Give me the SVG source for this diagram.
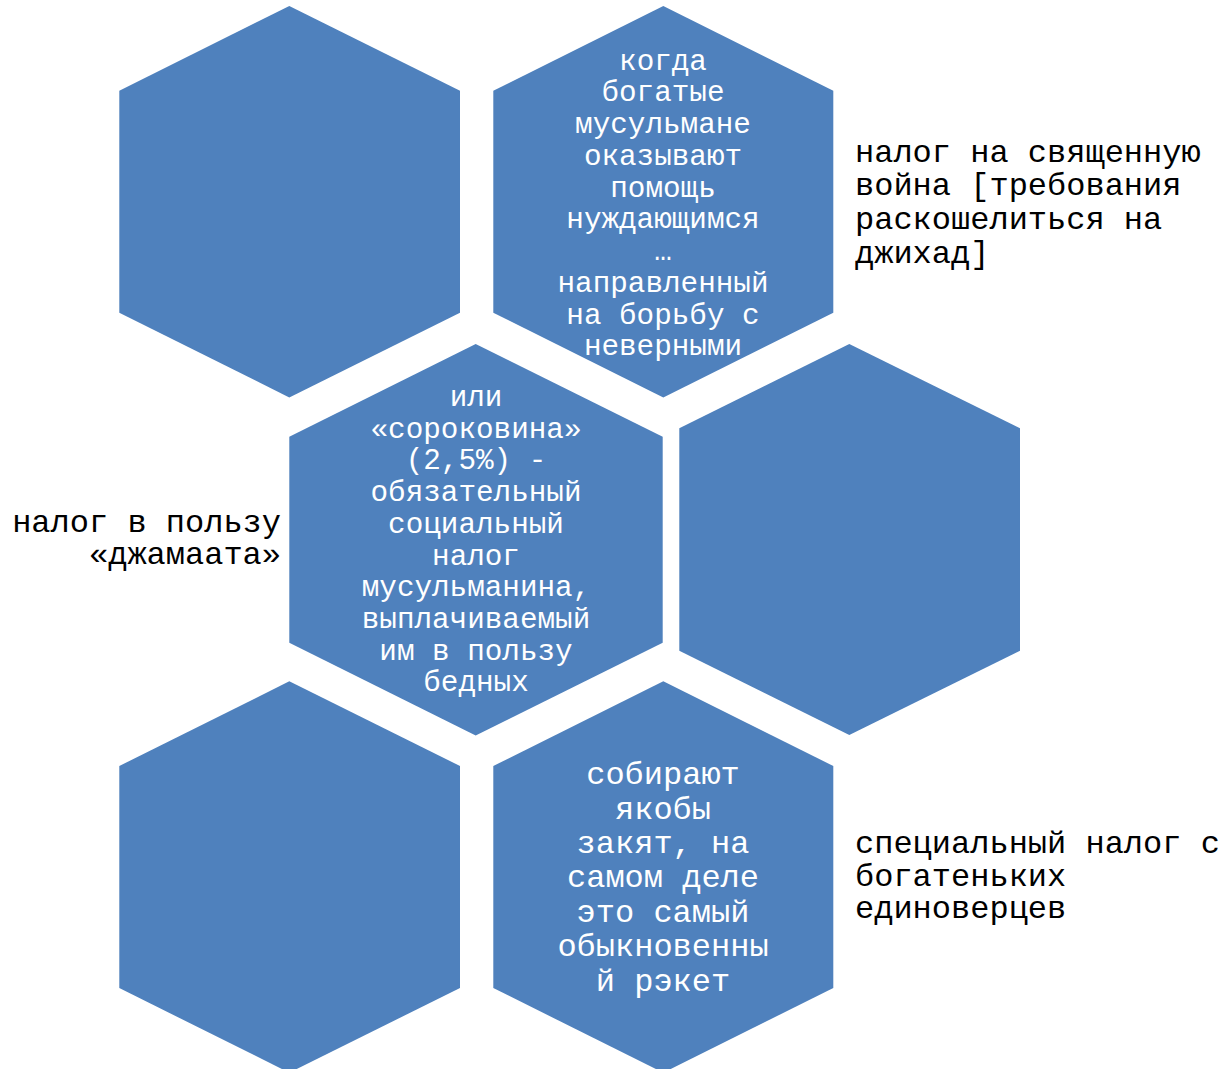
<svg xmlns="http://www.w3.org/2000/svg" width="1223" height="1069" viewBox="0 0 1223 1069">
<style>
.hex{fill:#4F81BD;}
.in{font-family:"Liberation Mono","Courier New",monospace;fill:#FFFFFF;text-anchor:middle;}
.s29{font-size:29.3px;}
.s32{font-size:32px;}
.out{font-family:"Liberation Mono","Courier New",monospace;fill:#000000;font-size:32px;}
.end{text-anchor:end;}
</style>
<rect width="1223" height="1069" fill="#FFFFFF"/>
<g id="hex1"><polygon class="hex" points="289.3,6 460,90.7 460,312.7 289.3,397.4 119.3,312.7 119.3,90.7"/></g>
<g id="hex2"><polygon class="hex" points="663.3,6 833.3,90.7 833.3,312.7 663.3,397.4 493.3,312.7 493.3,90.7"/>
<text class="in s29" x="663" y="69.5">когда</text>
<text class="in s29" x="663" y="101">богатые</text>
<text class="in s29" x="663" y="133">мусульмане</text>
<text class="in s29" x="663" y="165">оказывают</text>
<text class="in s29" x="663" y="196.5">помощь</text>
<text class="in s29" x="663" y="228">нуждающимся</text>
<text class="in s29" x="663" y="260">…</text>
<text class="in s29" x="663" y="291.5">направленный</text>
<text class="in s29" x="663" y="323.5">на борьбу с</text>
<text class="in s29" x="663" y="355">неверными</text>
</g>
<g id="hex3"><polygon class="hex" points="475.7,344 662.7,436.7 662.7,642.7 475.7,735.4 289.3,642.7 289.3,436.7"/>
<text class="in s29" x="476" y="406">или</text>
<text class="in s29" x="476" y="437.7">«сороковина»</text>
<text class="in s29" x="476" y="469.4">(2,5%) -</text>
<text class="in s29" x="476" y="501">обязательный</text>
<text class="in s29" x="476" y="532.8">социальный</text>
<text class="in s29" x="476" y="564.5">налог</text>
<text class="in s29" x="476" y="596">мусульманина,</text>
<text class="in s29" x="476" y="628">выплачиваемый</text>
<text class="in s29" x="476" y="659.6">им в пользу</text>
<text class="in s29" x="476" y="691.3">бедных</text>
</g>
<g id="hex4"><polygon class="hex" points="849.3,344 1020,428.3 1020,650.7 849.3,735 679.3,650.7 679.3,428.3"/></g>
<g id="hex5"><polygon class="hex" points="289.3,681.3 460,766 460,988 289.3,1072.7 119.3,988 119.3,766"/></g>
<g id="hex6"><polygon class="hex" points="663.3,681.3 833.3,766 833.3,988 663.3,1072.7 493.3,988 493.3,766"/>
<text class="in s32" x="663" y="784">собирают</text>
<text class="in s32" x="663" y="818.5">якобы</text>
<text class="in s32" x="663" y="853">закят, на</text>
<text class="in s32" x="663" y="887.4">самом деле</text>
<text class="in s32" x="663" y="921.8">это самый</text>
<text class="in s32" x="663" y="956.3">обыкновенны</text>
<text class="in s32" x="663" y="990.7">й рэкет</text>
</g>
<g id="label-right-top">
<text class="out" x="855" y="161.7">налог на священную</text>
<text class="out" x="855" y="195.3">война [требования</text>
<text class="out" x="855" y="229">раскошелиться на</text>
<text class="out" x="855" y="262.7">джихад]</text>
</g>
<g id="label-left">
<text class="out end" x="281" y="531.7">налог в пользу</text>
<text class="out end" x="281" y="564">«джамаата»</text>
</g>
<g id="label-right-bottom">
<text class="out" x="855" y="852.7">специальный налог с</text>
<text class="out" x="855" y="885.5">богатеньких</text>
<text class="out" x="855" y="918.3">единоверцев</text>
</g>
<g id="connectors"></g>
</svg>
